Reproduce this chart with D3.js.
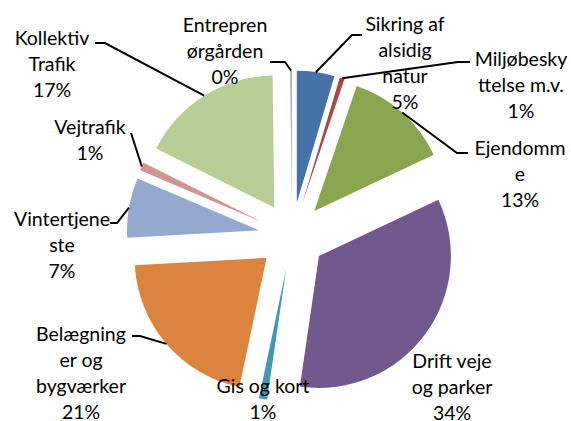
<!DOCTYPE html>
<html>
<head>
<meta charset="utf-8">
<script src="https://cdn.jsdelivr.net/npm/d3@7"></script>
<style>
  html, body { margin: 0; padding: 0; background: #fff; }
  svg { display: block; }
  text { font-family: Lato, "Open Sans", sans-serif; fill: #000; }
</style>
</head>
<body>
<svg id="chart" width="571" height="421"></svg>
<script>
// ---- data (clockwise from 12 o'clock) ----
const categories = ["Sikring af alsidig natur", "Miljøbeskyttelse m.v.", "Ejendomme",
  "Drift veje og parker", "Gis og kort", "Belægninger og bygværker", "Vintertjeneste",
  "Vejtrafik", "Kollektiv Trafik", "Entreprenørgården"];
const values = [4.6, 0.6, 12.8, 34.3, 1.0, 20.8, 7.3, 1.0, 17.4, 0.2];
const labelLines = [["Sikring af", "alsidig", "natur"], ["Miljøbesky", "ttelse m.v."],
  ["Ejendomm", "e"], ["Drift veje", "og parker"], ["Gis og kort"],
  ["Belægning", "er og", "bygværker"], ["Vintertjene", "ste"], ["Vejtrafik"],
  ["Kollektiv", "Trafik"], ["Entrepren", "ørgården"]];
const colors = ["#4572A7", "#AA4643", "#89A54E", "#71588F", "#4198AF",
  "#DB843D", "#93A9CF", "#D19392", "#B9CD96", "#A99BBD"];

// ---- layout ----
const cx = 292, cy = 236, R = 132, explode = 33.5, lineH = 26, fontSize = 19.5;
// label anchor: text centre x, first line centre y
const labelPos = [[405, 24], [521, 59], [520, 148], [452, 361], [263, 386],
  [81, 334], [62, 219], [90, 127], [52, 38], [225, 25]];
// leader: start point and elbow x (null = no leader)
const leaders = [[362, 35, 352], [470, 62, 458], [468, 153, 457], null, null,
  [132, 336, 140], [110, 223, 117], [131, 133, 131], [95, 43, 105], [270, 62, 285]];

const total = d3.sum(values);
const data = categories.map((c, i) => ({ cat: c, value: values[i], i }));
const pie = d3.pie().sort(null).value(d => d.value).startAngle(0).endAngle(2 * Math.PI);
const arcs = pie(data);
const arc = d3.arc().innerRadius(0).outerRadius(R);

const svg = d3.select("#chart");
const g = svg.append("g").attr("transform", `translate(${cx},${cy})`);

function offset(a) {
  const m = (a.startAngle + a.endAngle) / 2;
  return [explode * Math.sin(m), -explode * Math.cos(m)];
}

g.selectAll("path.slice").data(arcs).enter().append("path")
  .attr("class", "slice")
  .attr("d", arc)
  .attr("fill", (d, i) => colors[i])
  .attr("transform", d => { const o = offset(d); return `translate(${o[0]},${o[1]})`; });

// labels
arcs.forEach((a, i) => {
  const lines = labelLines[i].concat([Math.round(a.data.value / total * 100) + "%"]);
  const t = svg.append("text")
    .attr("text-anchor", "middle")
    .style("font-size", fontSize + "px");
  lines.forEach((ln, k) => {
    t.append("tspan").attr("x", labelPos[i][0])
      .attr("y", labelPos[i][1] + k * lineH + 7)
      .text(ln);
  });
});

// leader lines (end at the middle of the slice's outer arc)
arcs.forEach((a, i) => {
  const L = leaders[i];
  if (!L) return;
  const o = offset(a);
  const m = (a.startAngle + a.endAngle) / 2;
  const ex = cx + o[0] + R * Math.sin(m), ey = cy + o[1] - R * Math.cos(m);
  svg.append("path")
    .attr("d", d3.line()([[L[0], L[1]], [L[2], L[1]], [ex, ey]]))
    .attr("fill", "none").attr("stroke", "#000").attr("stroke-width", 2);
});
</script>
</body>
</html>
